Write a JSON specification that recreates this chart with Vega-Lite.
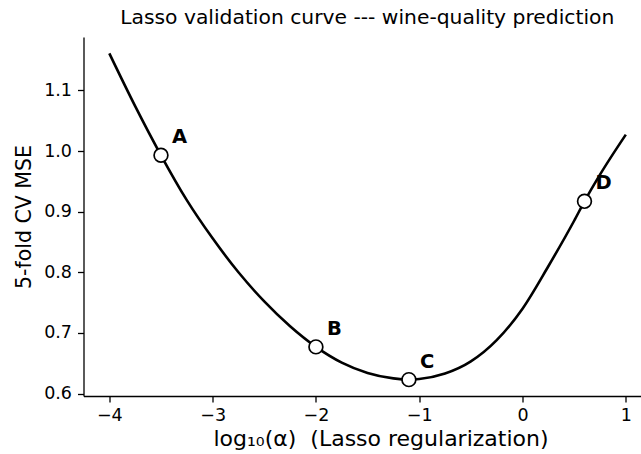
{
  "$schema": "https://vega.github.io/schema/vega-lite/v6.json",
  "width": 557.5,
  "height": 359,
  "autosize": "none",
  "padding": {"left": 83.5, "top": 37, "right": 0, "bottom": 58},
  "background": "white",
  "config": {
    "view": {"stroke": null},
    "font": "DejaVu Sans",
    "axis": {
      "grid": false,
      "domainColor": "black",
      "domainWidth": 1.3,
      "tickColor": "black",
      "tickWidth": 1.3,
      "tickSize": 6,
      "labelColor": "black",
      "labelFont": "DejaVu Sans",
      "labelFontSize": 17.5,
      "titleFont": "DejaVu Sans",
      "titleFontSize": 20.5,
      "titleFontWeight": "normal",
      "titleColor": "black"
    }
  },
  "title": {
    "text": "Lasso validation curve --- wine-quality prediction",
    "font": "DejaVu Sans",
    "fontSize": 20.3,
    "fontWeight": "normal",
    "color": "black",
    "anchor": "middle",
    "offset": 9,
    "dx": 5
  },
  "datasets": {
    "curve": [
      {"log_alpha": -4.0, "mse": 1.161},
      {"log_alpha": -3.75, "mse": 1.074},
      {"log_alpha": -3.5, "mse": 0.993},
      {"log_alpha": -3.25, "mse": 0.919},
      {"log_alpha": -3.0, "mse": 0.856},
      {"log_alpha": -2.75, "mse": 0.800},
      {"log_alpha": -2.5, "mse": 0.752},
      {"log_alpha": -2.25, "mse": 0.711},
      {"log_alpha": -2.0, "mse": 0.677},
      {"log_alpha": -1.75, "mse": 0.651},
      {"log_alpha": -1.5, "mse": 0.634},
      {"log_alpha": -1.25, "mse": 0.625},
      {"log_alpha": -1.1, "mse": 0.623},
      {"log_alpha": -1.0, "mse": 0.624},
      {"log_alpha": -0.75, "mse": 0.633},
      {"log_alpha": -0.5, "mse": 0.653},
      {"log_alpha": -0.25, "mse": 0.688},
      {"log_alpha": 0.0, "mse": 0.740},
      {"log_alpha": 0.25, "mse": 0.810},
      {"log_alpha": 0.5, "mse": 0.885},
      {"log_alpha": 0.6, "mse": 0.917},
      {"log_alpha": 0.75, "mse": 0.961},
      {"log_alpha": 1.0, "mse": 1.027}
    ],
    "points": [
      {"log_alpha": -3.5, "mse": 0.993, "label": "A"},
      {"log_alpha": -2.0, "mse": 0.677, "label": "B"},
      {"log_alpha": -1.1, "mse": 0.623, "label": "C"},
      {"log_alpha": 0.6, "mse": 0.917, "label": "D"}
    ]
  },
  "encoding": {
    "x": {
      "field": "log_alpha",
      "type": "quantitative",
      "scale": {"domain": [-4.25, 1.147], "nice": false, "zero": false},
      "axis": {
        "values": [-4, -3, -2, -1, 0, 1],
        "format": "d",
        "labelPadding": 4,
        "titlePadding": 5,
        "titleX": 297,
        "titleFontSize": 22,
        "title": "log₁₀(α)\u00a0\u00a0(Lasso regularization)"
      }
    },
    "y": {
      "field": "mse",
      "type": "quantitative",
      "scale": {"domain": [0.596, 1.188], "nice": false, "zero": false},
      "axis": {
        "values": [0.6, 0.7, 0.8, 0.9, 1.0, 1.1],
        "format": ".1f",
        "labelPadding": 6,
        "titlePadding": 9,
        "title": "5-fold CV MSE"
      }
    }
  },
  "layer": [
    {
      "data": {"name": "curve"},
      "mark": {"type": "line", "color": "black", "strokeWidth": 2.6, "interpolate": "monotone"}
    },
    {
      "data": {"name": "points"},
      "mark": {"type": "point", "shape": "circle", "filled": true, "fill": "white", "stroke": "black", "strokeWidth": 1.7, "size": 190, "opacity": 1}
    },
    {
      "data": {"name": "points"},
      "mark": {"type": "text", "font": "DejaVu Sans", "fontWeight": "bold", "fontSize": 19.5, "align": "left", "baseline": "middle", "dx": 11, "dy": -18, "color": "black"},
      "encoding": {"text": {"field": "label"}}
    }
  ]
}
